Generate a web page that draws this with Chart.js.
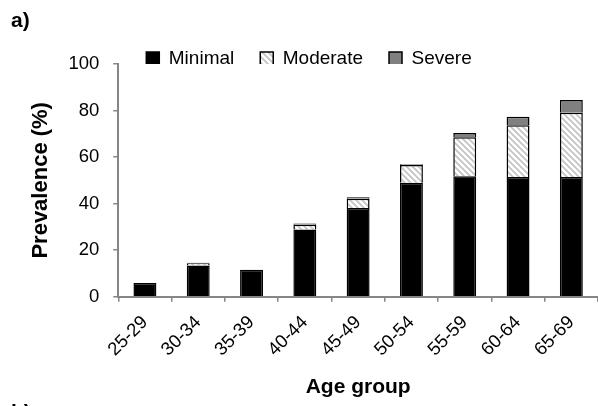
<!DOCTYPE html>
<html>
<head>
<meta charset="utf-8">
<script src="https://cdn.jsdelivr.net/npm/chart.js@4.4.1/dist/chart.umd.min.js"></script>
<style>
  html, body { margin: 0; padding: 0; background: #fff; }
  #wrap { width: 598px; height: 406px; position: relative; }
</style>
</head>
<body>
<div id="wrap"><canvas id="prevChart"></canvas></div>
<script>
const ageGroups = ['25-29', '30-34', '35-39', '40-44', '45-49', '50-54', '55-59', '60-64', '65-69'];
const minimal = [5.9, 13.4, 11.6, 28.9, 38.1, 49.0, 51.7, 51.4, 51.4];
const moderate = [0, 1.0, 0, 2.0, 4.0, 7.6, 16.8, 22.3, 27.6];
const severe = [0, 0.2, 0, 0.5, 0.6, 0.3, 1.8, 3.6, 5.5];
const yTicks = [0, 20, 40, 60, 80, 100];

// light grey diagonal hatch for the Moderate band
function makeHatch() {
    const c = document.createElement('canvas');
    c.width = 6; c.height = 6;
    const g = c.getContext('2d');
    g.fillStyle = '#fff';
    g.fillRect(0, 0, 6, 6);
    g.strokeStyle = '#c4c4c4';
    g.lineWidth = 1.8;
    g.beginPath();
    g.moveTo(-1, -1); g.lineTo(7, 7);
    g.moveTo(-4, 2); g.lineTo(4, 10);
    g.moveTo(2, -4); g.lineTo(10, 4);
    g.stroke();
    return g.createPattern(c, 'repeat');
}
const hatch = makeHatch();

const FONT = "'Liberation Sans', Arial, sans-serif";

// panel letters
const panelLabels = {
    id: 'panelLabels',
    afterDraw(chart) {
        const ctx = chart.ctx;
        ctx.save();
        ctx.fillStyle = '#000';
        ctx.font = 'bold 21px ' + FONT;
        ctx.textBaseline = 'alphabetic';
        ctx.fillText('a)', 11, 27);
        ctx.fillText('b)', 11, 419);
        ctx.restore();
    }
};

new Chart(document.getElementById('prevChart'), {
    type: 'bar',
    data: {
        labels: ageGroups,
        datasets: [
            { label: 'Minimal', data: minimal, backgroundColor: '#000' },
            { label: 'Moderate', data: moderate, backgroundColor: hatch },
            { label: 'Severe', data: severe, backgroundColor: '#808080' }
        ].map(d => Object.assign(d, {
            borderColor: '#000',
            borderWidth: 1.5,
            barPercentage: 0.43,
            categoryPercentage: 1
        }))
    },
    options: {
        responsive: true,
        maintainAspectRatio: false,
        animation: false,
        layout: { padding: { top: 23, left: 20, right: 0, bottom: 2 } },
        plugins: {
            legend: {
                display: true,
                position: 'top',
                maxHeight: 41,
                labels: {
                    boxWidth: 13, boxHeight: 13,
                    color: '#000',
                    font: { family: FONT, size: 19 },
                    padding: 26
                }
            },
            tooltip: { enabled: false }
        },
        scales: {
            x: {
                stacked: true,
                grid: {
                    offset: true,
                    drawOnChartArea: false,
                    drawTicks: true,
                    tickLength: 5,
                    color: '#868686',
                    lineWidth: 1.5
                },
                border: { color: '#868686', width: 2 },
                ticks: {
                    color: '#000',
                    font: { family: FONT, size: 18.5 },
                    minRotation: 45,
                    maxRotation: 45,
                    padding: 10
                },
                title: {
                    display: true,
                    text: 'Age group',
                    color: '#000',
                    font: { family: FONT, size: 21, weight: 'bold' },
                    padding: { top: 4, bottom: 4 }
                }
            },
            y: {
                stacked: true,
                min: 0,
                max: 100,
                afterBuildTicks(axis) { axis.ticks = yTicks.map(v => ({ value: v })); },
                grid: {
                    drawOnChartArea: false,
                    drawTicks: true,
                    tickLength: 5,
                    color: '#868686',
                    lineWidth: 1.5
                },
                border: { color: '#868686', width: 2 },
                ticks: {
                    color: '#000',
                    font: { family: FONT, size: 18.5 },
                    padding: 14
                },
                title: {
                    display: true,
                    text: 'Prevalence (%)',
                    color: '#000',
                    font: { family: FONT, size: 22, weight: 'bold' },
                    padding: { top: 8, bottom: 0 }
                }
            }
        }
    },
    plugins: [panelLabels]
});
</script>
</body>
</html>
